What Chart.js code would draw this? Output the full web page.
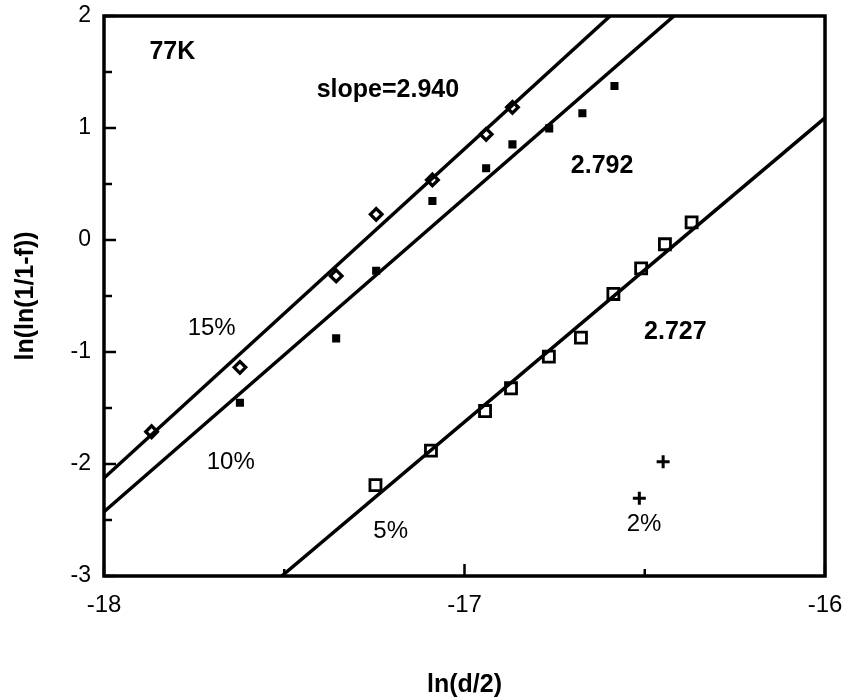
<!DOCTYPE html>
<html>
<head>
<meta charset="utf-8">
<script src="https://cdn.jsdelivr.net/npm/chart.js@4/dist/chart.umd.min.js"></script>
<style>
  html, body { margin: 0; padding: 0; background: #fff; }
  #wrap { width: 849px; height: 700px; }
</style>
</head>
<body>
<div id="wrap"><canvas id="c" width="849" height="700"></canvas></div>
<script>
// ---- data ----
const x15 = [-17.868, -17.623, -17.356, -17.245, -17.089, -16.940, -16.867];
const y15 = [-1.712, -1.137, -0.321, 0.229, 0.536, 0.944, 1.185];

const x10 = [-17.623, -17.356, -17.245, -17.089, -16.940, -16.867, -16.765, -16.673, -16.584];
const y10 = [-1.453, -0.878, -0.274, 0.348, 0.640, 0.854, 0.997, 1.131, 1.375];

const x5 = [-17.247, -17.093, -16.943, -16.871, -16.766, -16.677, -16.587, -16.510, -16.444, -16.370];
const y5 = [-2.188, -1.881, -1.527, -1.324, -1.042, -0.872, -0.482, -0.253, -0.038, 0.158];

const x2 = [-16.515, -16.449];
const y2 = [-2.306, -1.979];

// fitted lines (end points)
const fit15X = [-18, -16.596];
const fit15Y = [-2.125, 2.0];
const fit10X = [-18, -16.419];
const fit10Y = [-2.426, 2.0];
const fit5X = [-17.507, -16.0];
const fit5Y = [-3.0, 1.09];

// axes
const xMajorTicks = [-18, -17, -16];
const xTickLabels = ['-18', '-17', '-16'];
const xMinorTicks = [-17.5, -16.5];
const yMajorTicks = [2, 1, 0, -1, -2, -3];
const yTickLabels = ['2', '1', '0', '-1', '-2', '-3'];
const yMinorTicks = [1.5, 0.5, -0.5, -1.5, -2.5];

// annotations (text, data-coordinates of left baseline)
const noteTexts = ['77K', 'slope=2.940', '2.792', '2.727', '15%', '10%', '5%', '2%'];
const noteX = [-17.874, -17.410, -16.705, -16.502, -17.768, -17.715, -17.253, -16.550];
const noteY = [1.613, 1.279, 0.596, -0.887, -0.848, -2.047, -2.663, -2.595];
const noteBold = [true, true, true, true, false, false, false, false];

const pts = (xs, ys) => xs.map((v, i) => ({x: v, y: ys[i]}));

const FONT = "'Liberation Sans', Arial, Helvetica, sans-serif";

const framePlugin = {
  id: 'frame',
  afterDatasetsDraw(chart) {
    const {ctx, chartArea: a, scales} = chart;
    const xs = scales.x, ys = scales.y;
    ctx.save();
    ctx.strokeStyle = '#000';
    ctx.lineCap = 'butt';
    ctx.lineWidth = 2.5;
    const seg = (x1, y1, x2, y2) => { ctx.beginPath(); ctx.moveTo(x1, y1); ctx.lineTo(x2, y2); ctx.stroke(); };
    xMajorTicks.forEach(v => { const p = xs.getPixelForValue(v); seg(p, a.bottom, p, a.bottom - 12); });
    xMinorTicks.forEach(v => { const p = xs.getPixelForValue(v); seg(p, a.bottom, p, a.bottom - 7); });
    yMajorTicks.forEach(v => { const p = ys.getPixelForValue(v); seg(a.left, p, a.left + 12, p); });
    yMinorTicks.forEach(v => { const p = ys.getPixelForValue(v); seg(a.left, p, a.left + 8, p); });
    ctx.lineWidth = 3.5;
    ctx.strokeRect(a.left, a.top, a.right - a.left, a.bottom - a.top);

    ctx.fillStyle = '#000';
    ctx.textAlign = 'left';
    ctx.textBaseline = 'alphabetic';
    noteTexts.forEach((t, i) => {
      ctx.font = (noteBold[i] ? 'bold 25px ' : '24px ') + FONT;
      ctx.fillText(t, xs.getPixelForValue(noteX[i]), ys.getPixelForValue(noteY[i]));
    });
    ctx.restore();
  }
};

const lineStyle = {showLine: true, pointRadius: 0, borderColor: '#000', borderWidth: 3.5, clip: 0, order: 0, fill: false};

new Chart(document.getElementById('c'), {
  type: 'scatter',
  data: {
    datasets: [
      Object.assign({label: 'fit 15%', data: pts(fit15X, fit15Y)}, lineStyle),
      Object.assign({label: 'fit 10%', data: pts(fit10X, fit10Y)}, lineStyle),
      Object.assign({label: 'fit 5%', data: pts(fit5X, fit5Y)}, lineStyle),
      {label: '15%', data: pts(x15, y15), pointStyle: 'rectRot', pointRadius: 5.8,
       borderColor: '#000', backgroundColor: '#fff', borderWidth: 3.3, order: 1},
      {label: '10%', data: pts(x10, y10), pointStyle: 'rect', pointRadius: 4.3,
       borderColor: '#000', backgroundColor: '#000', borderWidth: 2, order: 1},
      {label: '5%', data: pts(x5, y5), pointStyle: 'rect', pointRadius: 7.8,
       borderColor: '#000', backgroundColor: '#fff', borderWidth: 2.8, order: 1},
      {label: '2%', data: pts(x2, y2), pointStyle: 'cross', pointRadius: 6.5,
       borderColor: '#000', borderWidth: 3, order: 1}
    ]
  },
  options: {
    responsive: false,
    animation: false,
    devicePixelRatio: 1,
    layout: {padding: {left: 0, top: 16, right: 24, bottom: 0}},
    plugins: {legend: {display: false}, tooltip: {enabled: false}},
    elements: {point: {hoverRadius: 0}},
    scales: {
      x: {
        type: 'linear', min: -18, max: -16,
        grid: {display: false, drawTicks: false},
        border: {display: false},
        afterBuildTicks: s => { s.ticks = xMajorTicks.map(v => ({value: v})); },
        afterFit: s => { s.height = 124; s.paddingLeft = 0; s.paddingRight = 0; },
        ticks: {
          padding: 15, color: '#000', font: {family: FONT, size: 24},
          callback: v => xTickLabels[xMajorTicks.indexOf(v)]
        },
        title: {display: true, text: 'ln(d/2)', color: '#000',
                font: {family: FONT, size: 25, weight: 'bold'}, padding: {top: 0, bottom: 0}}
      },
      y: {
        type: 'linear', min: -3, max: 2,
        grid: {display: false, drawTicks: false},
        border: {display: false},
        afterBuildTicks: s => { s.ticks = yMajorTicks.slice().reverse().map(v => ({value: v})); },
        afterFit: s => { s.width = 104; s.paddingTop = 0; s.paddingBottom = 0; },
        ticks: {
          padding: 13, color: '#000', font: {family: FONT, size: 23},
          callback: v => yTickLabels[yMajorTicks.indexOf(v)]
        },
        title: {display: true, text: 'ln(ln(1/1-f))', color: '#000',
                font: {family: FONT, size: 25, weight: 'bold'}, padding: {top: 11, bottom: 0}}
      }
    }
  },
  plugins: [framePlugin]
});
</script>
</body>
</html>
